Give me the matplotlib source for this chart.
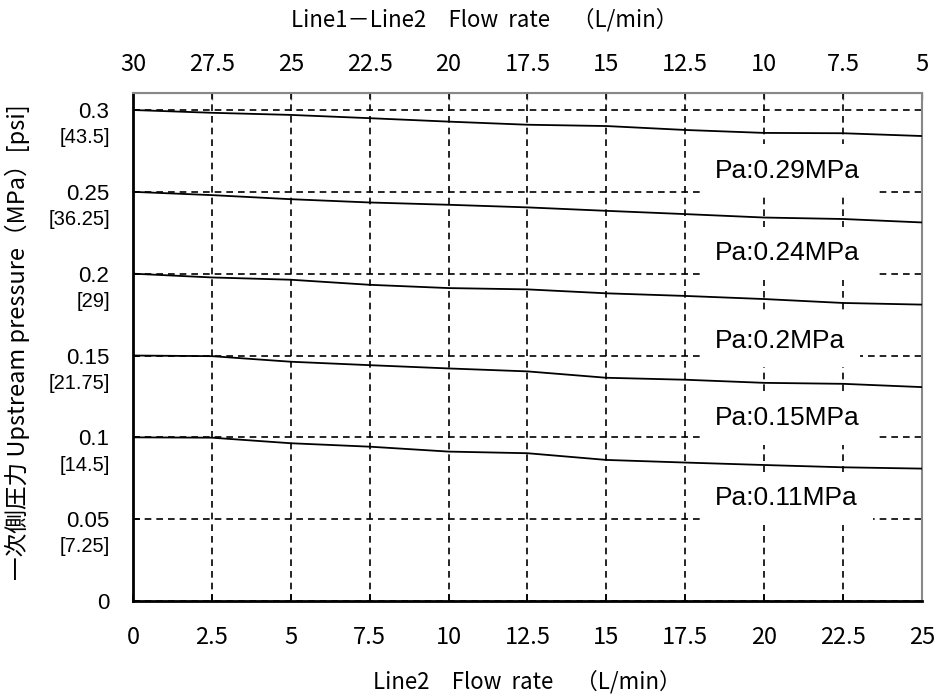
import numpy as np
import matplotlib
matplotlib.use("Agg")
import matplotlib.pyplot as plt

# Line2 flow rate (L/min), bottom axis
flow = [0, 2.5, 5, 7.5, 10, 12.5, 15, 17.5, 20, 22.5, 25]

# upstream pressure (MPa)
p_029 = [0.300, 0.2983, 0.2970, 0.2950, 0.2929, 0.2910, 0.2902, 0.2878, 0.2860, 0.2858, 0.2841]
p_024 = [0.250, 0.2480, 0.2455, 0.2435, 0.2421, 0.2405, 0.2384, 0.2364, 0.2343, 0.2334, 0.2313]
p_020 = [0.200, 0.1977, 0.1963, 0.1932, 0.1912, 0.1904, 0.1880, 0.1864, 0.1845, 0.1821, 0.1811]
p_015 = [0.150, 0.1496, 0.1462, 0.1441, 0.1421, 0.1403, 0.1364, 0.1352, 0.1333, 0.1327, 0.1307]
p_011 = [0.100, 0.0998, 0.0964, 0.0943, 0.0913, 0.0903, 0.0862, 0.0846, 0.0831, 0.0817, 0.0809]
curves = [p_029, p_024, p_020, p_015, p_011]
curve_labels = ["Pa:0.29MPa", "Pa:0.24MPa", "Pa:0.2MPa", "Pa:0.15MPa", "Pa:0.11MPa"]

# axis ticks
x_ticks = [0, 2.5, 5, 7.5, 10, 12.5, 15, 17.5, 20, 22.5, 25]
x_ticklabels = ["0", "2.5", "5", "7.5", "10", "12.5", "15", "17.5", "20", "22.5", "25"]
top_ticklabels = ["30", "27.5", "25", "22.5", "20", "17.5", "15", "12.5", "10", "7.5", "5"]
y_ticks = [0, 0.05, 0.1, 0.15, 0.2, 0.25, 0.3]
y_ticklabels = ["0", "0.05", "0.1", "0.15", "0.2", "0.25", "0.3"]
psi_ticks = [0.05, 0.1, 0.15, 0.2, 0.25, 0.3]
psi_labels = ["[7.25]", "[14.5]", "[21.75]", "[29]", "[36.25]", "[43.5]"]

cjk = ["Noto Sans CJK JP", "DejaVu Sans"]
arial = ["Liberation Sans", "DejaVu Sans"]

fig = plt.figure(figsize=(9.41, 6.97), dpi=100)
ax = fig.add_axes([0.1413, 0.1377, 0.8385, 0.7289])

for yv in curves:
    ax.plot(flow, yv, color="black", lw=1.3, zorder=3)

ax.set_xlim(0, 25)
ax.set_ylim(0, 0.3104)

ax.set_axisbelow(True)
ax.grid(True, color="black", ls=(0, (4, 3)), lw=1.2)

ax.set_xticks(x_ticks)
ax.set_xticklabels(x_ticklabels, family=cjk, fontsize=17)
ax.set_yticks(y_ticks)
ax.set_yticklabels(y_ticklabels, family=arial, fontsize=16)
ax.tick_params(axis="x", direction="in", length=5, width=1.2, pad=18)
ax.tick_params(axis="y", direction="in", length=5, width=1.2, pad=17)

for v, lab in zip(psi_ticks, psi_labels):
    ax.annotate(lab, xy=(0, v), xycoords=("axes fraction", "data"),
                xytext=(-16.5, -20), textcoords="offset points",
                ha="right", va="center", fontsize=14.5, family=arial)

# top axis: Line1-Line2 flow = 30 - Line2 flow
top = ax.secondary_xaxis("top")
top.set_xticks(x_ticks)
top.set_xticklabels(top_ticklabels, family=cjk, fontsize=17)
top.tick_params(direction="in", length=5, width=1.0, color="#888888", pad=12)
top.spines["top"].set_color("#888888")

for side in ["left", "bottom"]:
    ax.spines[side].set_linewidth(2.0)
    ax.spines[side].set_color("black")
ax.spines["right"].set_color("#888888")
ax.spines["right"].set_linewidth(1.5)
ax.spines["top"].set_color("#888888")
ax.spines["top"].set_linewidth(1.5)

# curve labels with white boxes that hide the grid
label_y = [0.263, 0.2126, 0.1589, 0.1116, 0.0627]
for lab, ly in zip(curve_labels, label_y):
    ax.text(18.45, ly, lab, ha="left", va="center", fontsize=19, family=arial,
            zorder=2, bbox=dict(boxstyle="square,pad=0.55", facecolor="white", edgecolor="none"))

ax.set_xlabel("Line2　Flow  rate　（L/min）", family=cjk, fontsize=16, labelpad=15)
ax.set_ylabel("一次側圧力 Upstream pressure（MPa）[psi]", family=cjk, fontsize=17,
              va="center")
ax.yaxis.set_label_coords(-0.146, 0.51)
fig.text(484 / 941, 1 - 20 / 697, "Line1－Line2　Flow  rate　（L/min）", family=cjk,
         fontsize=16, ha="center", va="center")

fig.savefig("out.png", dpi=100)
